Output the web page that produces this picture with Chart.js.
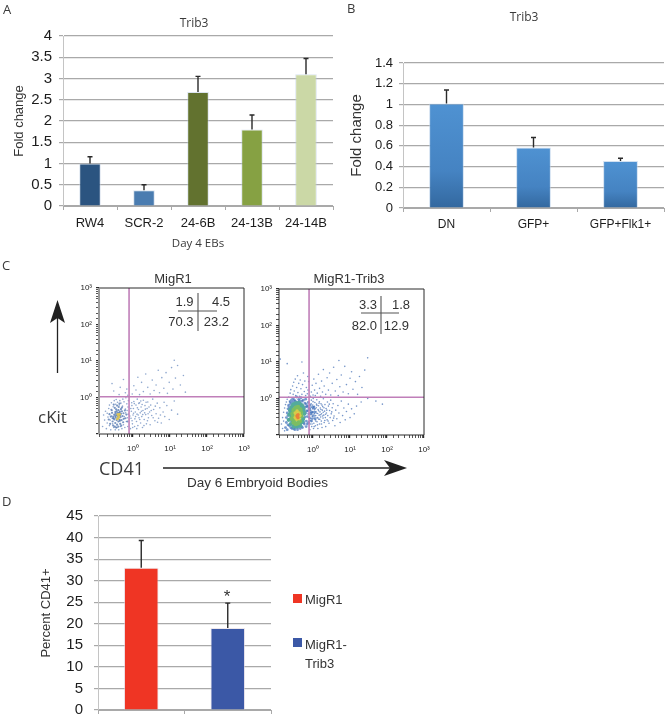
<!DOCTYPE html>
<html>
<head>
<meta charset="utf-8">
<title>Trib3 figure</title>
<script src="https://cdn.jsdelivr.net/npm/chart.js@4"></script>
<style>
    html, body { margin: 0; padding: 0; background: #fff; }
    body { position: relative; width: 667px; height: 718px; overflow: hidden; }
    canvas { position: absolute; filter: blur(0.35px); }
    svg { position: absolute; left: 0; top: 0; }
    .txt { position: absolute; white-space: nowrap; line-height: 1; color: #333; font-family: "Liberation Sans", Arial, sans-serif; }
    .soft { font-family: "Open Sans", sans-serif; color: #3a3a3a; }
    .swatch { position: absolute; width: 9px; height: 9px; }
</style>
</head>
<body>
<canvas id="panelA" width="340" height="251" style="left:0;top:0"></canvas>
<canvas id="panelB" width="327" height="250" style="left:340px;top:0"></canvas>
<canvas id="plotMigR1" width="195" height="195" style="left:70px;top:265px"></canvas>
<canvas id="plotTrib3" width="195" height="195" style="left:250px;top:265px"></canvas>
<canvas id="panelD" width="285" height="250" style="left:0;top:495px"></canvas>

<svg width="667" height="718">
    <!-- cKit arrow -->
    <line x1="57.5" y1="373" x2="57.5" y2="315" stroke="#222" stroke-width="1.3"/>
    <polygon points="57.5,300 65,323 57.5,318 50,323" fill="#222"/>
    <!-- day 6 arrow -->
    <line x1="163" y1="468" x2="395" y2="468" stroke="#222" stroke-width="1.3"/>
    <polygon points="407,468 384,460 390,468 384,476" fill="#222"/>
    <!-- quadrant crosses -->
    <g stroke="#555" stroke-width="1.1">
        <line x1="198" y1="293" x2="198" y2="331"/>
        <line x1="178" y1="311" x2="217" y2="311"/>
        <line x1="381" y1="296" x2="381" y2="334"/>
        <line x1="361" y1="313" x2="399" y2="313"/>
    </g>
</svg>

<script>
// ---- Panel A ----
const panelACategories = ['RW4', 'SCR-2', '24-6B', '24-13B', '24-14B'];
const panelAValues = [1.0, 0.37, 2.68, 1.8, 3.1];
const panelATops = [1.16, 0.5, 3.05, 2.14, 3.47];
const panelAColors = ['#2b5480', '#4a7cb0', '#62722f', '#86a143', '#cbd8a6'];

// ---- Panel B ----
const panelBCategories = ['DN', 'GFP+', 'GFP+Flk1+'];
const panelBValues = [1.01, 0.585, 0.455];
const panelBTops = [1.14, 0.68, 0.48];

// ---- Panel D ----
const panelDCategories = ['MigR1', 'MigR1-Trib3'];
const panelDValues = [33, 19];
const panelDTops = [39.3, 24.8];
const panelDColors = ['#ef3524', '#3b58a6'];

// ---- Panel C gates and tick labels ----
const decadeLabels = { 1: '10⁰', 10: '10¹', 100: '10²', 1000: '10³' };
const migR1GateX = 0.78;
const migR1GateY = 1.05;
const trib3GateX = 0.78;
const trib3GateY = 1.08;

// ---- Panel C events [CD41, cKit] ----
const migR1Sparse = [
    [0.15,0.16],[0.17,0.24],[0.16,0.33],[0.18,0.42],[0.19,0.14],[0.2,0.2],[0.21,0.29],[0.2,0.37],[0.22,0.5],[0.23,0.17],
    [0.24,0.24],[0.23,0.62],[0.25,0.13],[0.26,0.31],[0.27,0.44],[0.26,0.72],[0.28,0.19],[0.29,0.56],[0.3,0.15],[0.31,0.82],
    [0.33,0.13],[0.34,0.65],[0.35,0.88],[0.37,0.15],[0.38,0.74],[0.41,0.13],[0.42,0.62],[0.44,0.82],[0.46,0.16],[0.47,0.7],
    [0.5,0.14],[0.52,0.58],[0.53,0.9],[0.55,0.18],[0.57,0.76],[0.6,0.15],[0.62,0.48],[0.64,0.98],[0.66,0.22],[0.68,0.67],
    [0.72,0.16],[0.74,0.35],[0.75,0.82],[0.7,0.28],[0.58,0.3],[0.63,0.38],[0.69,0.44],[0.73,0.55],
    [0.85,0.14],[0.88,0.27],[0.9,0.42],[0.93,0.6],[0.96,0.19],[1.0,0.33],[1.02,0.5],[1.05,0.78],[1.1,0.16],[1.12,0.26],
    [1.15,0.4],[1.2,0.62],[1.24,0.22],[1.28,0.35],[1.3,0.9],[1.35,0.17],[1.4,0.47],[1.45,0.28],[1.5,0.72],[1.56,0.38],
    [1.6,0.2],[1.65,0.55],[1.72,0.3],[1.8,0.15],[1.85,0.44],[1.9,0.84],[2.0,0.25],[2.1,0.6],[2.2,0.34],[2.3,0.19],
    [2.4,0.5],[2.5,0.75],[2.6,0.28],[2.8,0.4],[2.9,0.18],[3.0,0.62],[3.2,0.32],[3.4,0.9],[3.6,0.47],[3.9,0.23],
    [4.2,0.36],[4.5,0.7],[4.9,0.27],[5.3,0.52],[5.8,0.2],[6.5,0.4],[7.2,0.3],[8.2,0.6],[9.5,0.25],[11,0.45],[13,0.8],[16,0.35],
    [0.3,1.5],[0.27,2.4],[0.42,1.2],[0.45,1.9],[0.55,3.1],[0.62,1.35],[0.68,1.7],[0.72,1.15],[0.95,1.25],[1.05,2.1],
    [1.2,1.6],[1.35,3.6],[1.5,1.2],[1.7,2.6],[1.9,1.45],[2.2,4.4],[2.5,1.9],[2.9,1.25],[3.3,3.0],[3.7,1.55],
    [4.2,2.2],[4.8,5.6],[5.2,1.35],[6.0,3.5],[6.8,1.8],[7.8,4.8],[8.5,1.3],[9.5,2.6],[11,6.6],[12,1.7],[14,3.4],[16,7.5],[19,2.2],[23,4.0],[26,1.4],[13,10.5],
    [0.94,0.23],[1.03,0.37],[1.17,0.3],[1.31,0.52],[1.26,0.14],[1.43,0.69],[1.52,0.25],[1.68,0.42],[1.76,0.64],[1.97,0.17],
    [2.06,0.38],[2.25,0.74],[2.45,0.23],[2.7,0.55],[3.1,0.44],[3.5,0.28],[4.0,0.58],[4.6,0.21],[5.5,0.33],[6.9,0.74],
    [0.82,0.31],[0.87,0.5],[0.92,0.72],[0.98,0.15],[1.08,0.68],[1.38,0.33],[1.62,0.8],[1.83,0.34],[2.15,0.48],[2.55,0.36]
];
const migR1Dense = [
    [0.28,0.22],[0.3,0.27],[0.31,0.34],[0.33,0.2],[0.33,0.4],[0.34,0.28],[0.35,0.47],[0.36,0.24],[0.36,0.33],[0.37,0.18],
    [0.38,0.38],[0.39,0.27],[0.4,0.45],[0.4,0.22],[0.42,0.32],[0.43,0.25],[0.44,0.41],[0.45,0.19],[0.46,0.29],[0.47,0.36],
    [0.49,0.24],[0.5,0.42],[0.52,0.31],[0.54,0.21],[0.55,0.37],[0.25,0.3],[0.27,0.38],[0.29,0.17],[0.32,0.52],[0.41,0.55],
    [0.22,0.25],[0.23,0.35],[0.24,0.19],[0.26,0.46],[0.29,0.3],[0.3,0.64],[0.32,0.16],[0.35,0.15],[0.37,0.6],[0.4,0.16],
    [0.43,0.68],[0.48,0.17],[0.5,0.53],[0.56,0.26],[0.6,0.44],[0.62,0.27],[0.66,0.34],[0.71,0.22],[0.34,0.36],[0.38,0.31],
    [0.44,0.23],[0.47,0.48],[0.28,0.27],[0.31,0.25],[0.42,0.38],[0.36,0.42],[0.33,0.31],[0.45,0.33]
];
const migR1Warm = [[0.39,0.34],[0.41,0.29],[0.43,0.35],[0.38,0.26]];

const trib3Sparse = [
    [0.14,0.2],[0.15,0.3],[0.15,0.15],[0.16,0.42],[0.16,0.24],[0.17,0.55],[0.17,0.13],[0.18,0.68],[0.19,0.8],[0.2,0.95],
    [0.21,0.62],[0.22,1.1],[0.23,0.85],[0.24,1.4],[0.25,1.75],[0.26,1.05],[0.28,2.2],[0.29,1.3],[0.3,2.8],[0.31,1.6],
    [0.33,3.4],[0.34,1.2],[0.36,2.0],[0.38,4.2],[0.39,1.45],[0.41,2.6],[0.43,1.15],[0.45,3.2],[0.47,1.85],[0.5,1.3],
    [0.52,2.4],[0.55,5.0],[0.58,1.55],[0.6,3.0],[0.63,1.2],[0.66,2.0],[0.7,1.35],[0.73,1.7],[0.76,2.9],[0.72,4.0],
    [0.82,0.14],[0.84,0.2],[0.85,0.28],[0.86,0.36],[0.87,0.46],[0.88,0.58],[0.89,0.72],[0.9,0.9],[0.92,0.17],[0.93,0.24],
    [0.95,0.32],[0.96,0.41],[0.97,0.52],[0.98,0.66],[1.0,0.82],[1.01,1.0],[1.03,0.15],[1.05,0.21],[1.06,0.29],[1.08,0.38],
    [1.09,0.49],[1.1,0.61],[1.12,0.78],[1.14,0.26],[1.16,0.18],[1.18,0.34],[1.2,0.44],[1.22,0.56],[1.24,0.7],[1.26,0.92],
    [1.28,0.23],[1.3,0.3],[1.33,0.39],[1.35,0.15],[1.37,0.5],[1.4,0.63],[1.43,0.27],[1.46,0.35],[1.48,0.81],[1.5,0.2],
    [1.54,0.43],[1.57,0.55],[1.6,0.31],[1.64,0.72],[1.67,0.24],[1.7,0.38],[1.75,0.16],[1.78,0.48],[1.82,0.6],[1.86,0.29],
    [1.9,0.98],[1.95,0.35],[2.0,0.22],[2.05,0.45],[2.1,0.68],[2.15,0.3],[2.2,0.17],[2.25,0.53],[2.3,0.4],[2.4,0.26],
    [2.45,0.8],[2.5,0.34],[2.6,0.62],[2.7,0.21],[2.8,0.47],[2.9,0.3],[3.0,0.9],[3.1,0.38],[3.3,0.56],[3.4,0.25],
    [3.5,0.72],[3.7,0.33],[3.9,0.18],[4.1,0.48],[4.4,0.28],[4.7,0.64],[5.0,0.4],[5.4,0.22],[5.8,0.85],[6.3,0.34],
    [6.8,0.55],[7.4,0.26],[8.0,0.44],[9.0,0.7],[10,0.3],[11,0.52],[13,0.38],[15,0.62],[20,0.8],[30,1.0],[50,0.85],[75,0.7],
    [0.85,1.15],[0.9,1.5],[0.95,2.3],[1.0,1.25],[1.05,3.4],[1.1,1.7],[1.15,1.2],[1.2,2.6],[1.3,1.4],[1.4,4.6],
    [1.5,1.9],[1.6,1.15],[1.7,3.0],[1.8,1.5],[1.9,6.2],[2.0,2.2],[2.2,1.3],[2.4,3.7],[2.6,1.7],[2.8,5.0],
    [3.0,1.25],[3.3,2.6],[3.6,7.2],[4.0,1.6],[4.4,3.3],[4.8,1.2],[5.3,2.1],[5.8,4.4],[6.5,1.5],[7.2,7.6],
    [8,2.4],[9,1.35],[10,3.6],[11,5.4],[12,1.8],[14,2.9],[16,1.3],[18,4.0],[21,2.0],[25,6.0],[0.2,9],[0.13,12],[0.5,10],[5,11],[30,13],
    [0.83,0.25],[0.91,0.37],[0.94,0.2],[0.99,0.44],[1.04,0.6],[1.07,0.17],[1.11,0.33],[1.15,0.52],[1.19,0.24],[1.23,0.4],
    [1.27,0.65],[1.32,0.19],[1.36,0.29],[1.41,0.46],[1.45,0.74],[1.52,0.27],[1.58,0.36],[1.63,0.5],[1.69,0.2],[1.74,0.66],
    [1.8,0.33],[1.88,0.42],[1.97,0.56],[2.08,0.25],[2.18,0.37],[2.35,0.48],[2.55,0.24],[2.75,0.7],[3.2,0.43],[3.6,0.29]
];
const trib3Blue = [
    [0.18,0.16],[0.19,0.22],[0.19,0.3],[0.2,0.4],[0.2,0.14],[0.21,0.52],[0.22,0.66],[0.23,0.18],[0.24,0.8],[0.26,0.9],
    [0.27,0.15],[0.29,1.0],[0.32,0.14],[0.33,0.84],[0.36,1.1],[0.38,0.14],[0.41,0.95],[0.45,0.15],[0.47,1.05],[0.52,0.16],
    [0.54,0.9],[0.58,0.2],[0.6,0.75],[0.63,0.96],[0.66,0.24],[0.68,0.6],[0.7,0.32],[0.72,0.46],[0.74,0.78],[0.65,0.17],
    [0.76,0.22],[0.76,0.38],[0.8,0.3],[0.82,0.5],[0.84,0.66],[0.9,0.24],[0.92,0.42],[1.0,0.34],[1.05,0.55],[1.15,0.28],
    [0.21,0.19],[0.21,0.34],[0.22,0.26],[0.23,0.46],[0.23,0.57],[0.25,0.16],[0.25,0.72],[0.26,0.24],[0.27,0.52],[0.28,0.18],
    [0.28,0.8],[0.3,0.15],[0.3,0.62],[0.31,0.9],[0.34,0.16],[0.34,0.68],[0.37,0.8],[0.39,0.16],[0.4,0.68],[0.43,0.88],
    [0.44,0.19],[0.46,0.72],[0.49,0.17],[0.5,0.84],[0.51,0.25],[0.53,0.64],[0.56,0.22],[0.57,0.5],[0.6,0.31],[0.61,0.58],
    [0.63,0.4],[0.65,0.7],[0.67,0.46],[0.7,0.2],[0.71,0.62],[0.78,0.54],[0.86,0.4],[0.95,0.28],[0.98,0.58],[1.1,0.42]
];
const trib3Teal = [
    [0.22,0.26],[0.23,0.36],[0.24,0.48],[0.25,0.2],[0.27,0.6],[0.3,0.17],[0.31,0.7],[0.35,0.75],[0.36,0.17],[0.42,0.18],
    [0.42,0.76],[0.48,0.22],[0.49,0.66],[0.54,0.28],[0.55,0.52],[0.58,0.38],[0.26,0.3],[0.52,0.6],
    [0.25,0.42],[0.26,0.54],[0.28,0.24],[0.29,0.68],[0.33,0.19],[0.38,0.68],[0.45,0.18],[0.47,0.62],[0.52,0.24],[0.56,0.44]
];
const trib3Green = [
    [0.27,0.28],[0.28,0.38],[0.3,0.22],[0.3,0.48],[0.34,0.2],[0.34,0.56],[0.39,0.21],[0.39,0.58],[0.44,0.24],[0.45,0.5],[0.48,0.33],[0.47,0.42],
    [0.29,0.32],[0.31,0.42],[0.32,0.26],[0.36,0.5],[0.41,0.24],[0.43,0.46]
];
const trib3Yellow = [[0.33,0.3],[0.33,0.4],[0.36,0.27],[0.37,0.45],[0.42,0.28],[0.42,0.4],[0.35,0.35],[0.44,0.34]];
const trib3Orange = [[0.37,0.33],[0.39,0.36],[0.39,0.3]];

// ---- Shared styling ----
const TICK_FONT = 'Liberation Sans';
const SOFT_FONT = 'Open Sans';
const GRID_COLOR = '#a9a9a9';

const whiskerPlugin = {
    id: 'whiskers',
    afterDatasetsDraw(chart, args, opts) {
        const { ctx, scales: { x, y } } = chart;
        ctx.save();
        ctx.strokeStyle = '#2a2a2a';
        ctx.lineWidth = 1.4;
        opts.tops.forEach((top, i) => {
            const cx = x.getPixelForValue(i);
            const y0 = y.getPixelForValue(opts.values[i]);
            const y1 = y.getPixelForValue(top);
            ctx.beginPath();
            ctx.moveTo(cx, y0);
            ctx.lineTo(cx, y1);
            ctx.moveTo(cx - 2.5, y1);
            ctx.lineTo(cx + 2.5, y1);
            ctx.stroke();
        });
        ctx.restore();
    }
};

const framePlugin = {
    id: 'frame',
    afterDatasetsDraw(chart, args, opts) {
        const { ctx, chartArea: a } = chart;
        ctx.save();
        ctx.strokeStyle = '#2a2a2a';
        ctx.lineWidth = 1;
        ctx.beginPath();
        ctx.moveTo(a.left, a.top);
        ctx.lineTo(a.right, a.top);
        ctx.lineTo(a.right, a.bottom);
        ctx.lineTo(a.left, a.bottom);
        ctx.stroke();
        ctx.strokeStyle = opts.leftColor;
        ctx.lineWidth = opts.leftWidth;
        ctx.beginPath();
        ctx.moveTo(a.left, a.top);
        ctx.lineTo(a.left, a.bottom);
        ctx.stroke();
        ctx.restore();
    }
};

function renderBars(id, box, plot, d) {
    new Chart(document.getElementById(id), {
        type: 'bar',
        plugins: [whiskerPlugin],
        data: {
            labels: d.labels,
            datasets: [{
                data: d.values,
                backgroundColor: d.colors,
                borderColor: d.edge,
                borderWidth: { top: 1, left: 1, right: 1, bottom: 0 },
                borderSkipped: false,
                barPercentage: 0.4,
                categoryPercentage: 1
            }]
        },
        options: {
            responsive: false,
            animation: false,
            layout: { padding: { top: plot.t - box.t, right: box.l + box.w - plot.r, left: 0, bottom: 0 } },
            plugins: {
                legend: { display: false },
                tooltip: { enabled: false },
                whiskers: { tops: d.tops, values: d.values }
            },
            scales: {
                y: {
                    min: 0,
                    max: d.max,
                    ticks: {
                        stepSize: d.step,
                        color: '#1c1c1c',
                        padding: d.yPad,
                        font: { family: TICK_FONT, size: d.tickSize },
                        callback: v => String(+v.toFixed(1))
                    },
                    grid: { color: GRID_COLOR, lineWidth: 1.2, tickLength: 4 },
                    border: { color: '#c4c4c4' },
                    title: {
                        display: true,
                        text: d.yTitle,
                        color: '#333',
                        font: { family: TICK_FONT, size: d.yTitleSize },
                        padding: { top: d.yTitleInset, bottom: 0 }
                    },
                    afterFit: s => { s.width = plot.l - box.l; }
                },
                x: {
                    ticks: {
                        display: d.showX,
                        color: '#1c1c1c',
                        padding: d.xPad,
                        maxRotation: 0,
                        autoSkip: false,
                        font: { family: TICK_FONT, size: d.xSize }
                    },
                    grid: { drawOnChartArea: false, color: GRID_COLOR, tickLength: 4 },
                    border: { color: GRID_COLOR },
                    title: {
                        display: !!d.xTitle,
                        text: d.xTitle,
                        color: '#3a3a3a',
                        font: { family: SOFT_FONT, size: 11.5 },
                        padding: { top: 0, bottom: d.xTitleInset || 0 }
                    },
                    afterFit: s => { s.height = box.t + box.h - plot.b; }
                }
            }
        }
    });
}

function dots(points, color, radius) {
    return {
        type: 'scatter',
        data: points.map(p => ({ x: p[0], y: p[1] })),
        backgroundColor: color,
        borderWidth: 0,
        pointRadius: radius,
        pointHoverRadius: radius
    };
}

function gateLine(points) {
    return {
        type: 'line',
        data: points,
        borderColor: '#c07fb9',
        borderWidth: 1.6,
        pointRadius: 0,
        fill: false
    };
}

function renderDotPlot(id, box, plot, gx, gy, layers, leftColor, leftWidth) {
    const logAxis = (min, pad, afterFit) => ({
        type: 'logarithmic',
        min: min,
        max: 1000,
        ticks: {
            autoSkip: false,
            maxRotation: 0,
            padding: pad,
            color: '#222',
            font: { family: TICK_FONT, size: 8 },
            callback: v => decadeLabels[v] || ''
        },
        grid: {
            drawOnChartArea: false,
            color: '#2a2a2a',
            tickLength: 3,
            lineWidth: c => (c.tick && c.tick.major ? 1.2 : 0.8)
        },
        border: { display: false },
        afterFit: afterFit
    });
    new Chart(document.getElementById(id), {
        data: {
            datasets: [
                gateLine([{ x: gx, y: 0.1 }, { x: gx, y: 1000 }]),
                gateLine([{ x: 0.12, y: gy }, { x: 1000, y: gy }])
            ].concat(layers)
        },
        plugins: [framePlugin],
        options: {
            responsive: false,
            animation: false,
            layout: { padding: { top: plot.t - box.t, right: box.l + box.w - plot.r, left: 0, bottom: 0 } },
            plugins: {
                legend: { display: false },
                tooltip: { enabled: false },
                frame: { leftColor, leftWidth }
            },
            scales: {
                x: logAxis(0.12, 7, s => { s.height = box.t + box.h - plot.b; }),
                y: logAxis(0.1, 4, s => { s.width = plot.l - box.l; })
            }
        }
    });
}

function label(text, x, y, size, opts) {
    opts = opts || {};
    const el = document.createElement('div');
    el.className = 'txt' + (opts.soft ? ' soft' : '');
    el.textContent = text;
    el.style.fontSize = size + 'px';
    el.style.top = (y - size / 2) + 'px';
    if (opts.align === 'right') {
        el.style.right = (667 - x) + 'px';
    } else if (opts.align === 'center') {
        el.style.left = x + 'px';
        el.style.transform = 'translateX(-50%)';
    } else {
        el.style.left = x + 'px';
    }
    document.body.appendChild(el);
}

function swatch(color, x, y, size) {
    const el = document.createElement('div');
    el.className = 'swatch';
    el.style.background = color;
    el.style.left = x + 'px';
    el.style.top = y + 'px';
    el.style.width = size + 'px';
    el.style.height = size + 'px';
    document.body.appendChild(el);
}

function bluePanelGradient(c) {
    const { chart, dataIndex } = c;
    if (!chart.chartArea) return '#3f7dbb';
    const y = chart.scales.y;
    const g = chart.ctx.createLinearGradient(0, y.getPixelForValue(panelBValues[dataIndex]), 0, y.getPixelForValue(0));
    g.addColorStop(0, '#4f92d2');
    g.addColorStop(0.65, '#4583c2');
    g.addColorStop(1, '#33689f');
    return g;
}

renderBars('panelA', { l: 0, t: 0, w: 340, h: 251 }, { l: 63, r: 333, t: 36, b: 206 }, {
    labels: panelACategories, values: panelAValues, tops: panelATops, colors: panelAColors,
    edge: 'rgba(190,205,225,0.55)', max: 4, step: 0.5, tickSize: 15, yPad: 7, yTitle: 'Fold change', yTitleSize: 13, yTitleInset: 12,
    showX: true, xPad: 6, xSize: 13, xTitle: 'Day 4 EBs', xTitleInset: 0
});
renderBars('panelB', { l: 340, t: 0, w: 327, h: 250 }, { l: 403, r: 664, t: 63, b: 208 }, {
    labels: panelBCategories, values: panelBValues, tops: panelBTops, colors: bluePanelGradient,
    edge: 'rgba(180,205,232,0.6)', max: 1.4, step: 0.2, tickSize: 13, yPad: 6, yTitle: 'Fold change', yTitleSize: 15, yTitleInset: 8,
    showX: true, xPad: 5, xSize: 12, xTitle: ''
});
renderBars('panelD', { l: 0, t: 495, w: 285, h: 250 }, { l: 98, r: 271, t: 516, b: 710 }, {
    labels: panelDCategories, values: panelDValues, tops: panelDTops, colors: panelDColors,
    edge: 'rgba(225,215,225,0.6)', max: 45, step: 5, tickSize: 15, yPad: 11, yTitle: 'Percent CD41+', yTitleSize: 13, yTitleInset: 39,
    showX: false, xPad: 2, xSize: 10, xTitle: ''
});

renderDotPlot('plotMigR1', { l: 70, t: 265, w: 195, h: 195 }, { l: 99, r: 244, t: 288, b: 434 }, migR1GateX, migR1GateY, [
    dots(migR1Warm, '#d9c45a', 1.5),
    dots(migR1Dense, 'rgba(62,104,168,0.7)', 1.1),
    dots(migR1Sparse, 'rgba(104,138,190,0.75)', 0.8)
], '#9a9a9a', 2);
renderDotPlot('plotTrib3', { l: 250, t: 265, w: 195, h: 195 }, { l: 279, r: 424, t: 289, b: 435 }, trib3GateX, trib3GateY, [
    dots(trib3Orange, '#e9803a', 1.8),
    dots(trib3Yellow, '#d6cb48', 1.8),
    dots(trib3Green, '#7cbd62', 2.3),
    dots(trib3Teal, '#54ab9c', 2.1),
    dots(trib3Blue, 'rgba(62,112,186,0.7)', 1.4),
    dots(trib3Sparse, 'rgba(84,124,188,0.8)', 0.8)
], '#2a2a2a', 1);

// panel letters and loose text
label('A', 3, 9, 13, { soft: true });
label('B', 347, 8, 13, { soft: true });
label('C', 2, 265, 13, { soft: true });
label('D', 2, 501, 13, { soft: true });
label('Trib3', 194, 23, 12, { soft: true, align: 'center' });
label('Trib3', 524, 17, 12, { soft: true, align: 'center' });
label('MigR1', 173, 278, 13, { align: 'center' });
label('MigR1-Trib3', 349, 278, 13, { align: 'center' });
label('1.9', 193.5, 301, 13, { align: 'right' });
label('4.5', 230, 301, 13, { align: 'right' });
label('70.3', 193.5, 321, 13, { align: 'right' });
label('23.2', 229, 321, 13, { align: 'right' });
label('3.3', 377, 304, 13, { align: 'right' });
label('1.8', 410, 304, 13, { align: 'right' });
label('82.0', 377, 325, 13, { align: 'right' });
label('12.9', 409, 325, 13, { align: 'right' });
label('cKit', 38, 416, 17, { soft: true });
label('CD41', 99, 468, 18, { soft: true });
label('Day 6 Embryoid Bodies', 187, 483, 13.5);
label('*', 227, 596, 17, { align: 'center' });
swatch(panelDColors[0], 293, 594, 9);
label('MigR1', 305, 599, 13);
swatch(panelDColors[1], 293, 638, 9);
label('MigR1-', 305, 644, 13);
label('Trib3', 305, 663, 13);
</script>
</body>
</html>
